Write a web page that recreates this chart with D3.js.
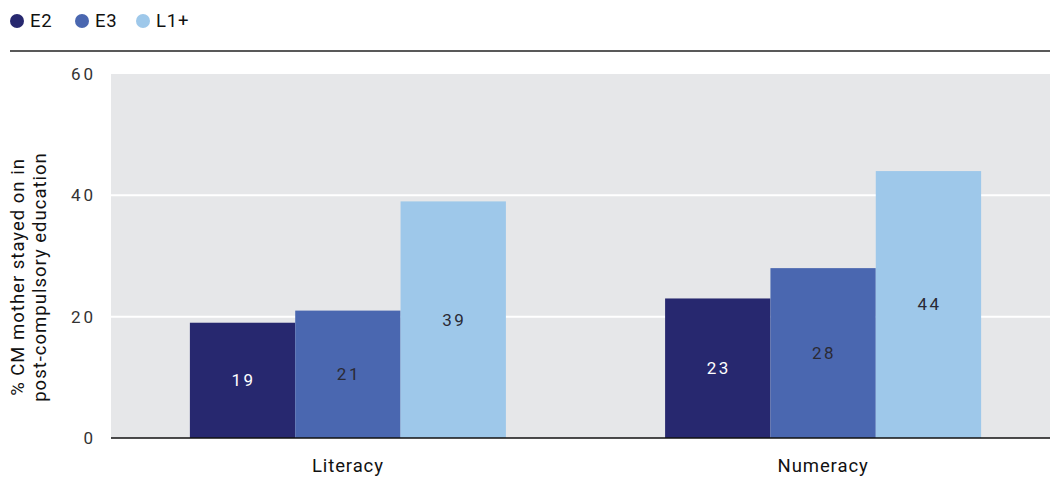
<!DOCTYPE html>
<html><head><meta charset="utf-8">
<script src="https://cdn.jsdelivr.net/npm/d3@7"></script>
<style>body{margin:0;background:#fff;} svg{display:block;font-family:Roboto, "DejaVu Sans", sans-serif;}</style>
</head><body>
<svg id="c" width="1050" height="480"></svg>
<script>
const categories = ["Literacy", "Numeracy"];
const seriesNames = ["E2", "E3", "L1+"];
const E2 = [19, 23];
const E3 = [21, 28];
const L1plus = [39, 44];
const yTicks = [0, 20, 40, 60];
const colors = ["#27286f", "#4a67b0", "#9ec8ea"];
const labelColors = ["#ffffff", "#2a2a35", "#2a2a35"];
const yTitle = ["% CM mother stayed on in", "post-compulsory education"];

(function () {
const seriesVals = [E2, E3, L1plus];
const svg = d3.select("#c");
const pl = 111, pr = 1060, pt = 74, pb = 438;

const x0 = d3.scaleBand().domain(categories).range([pl, pr]).paddingInner(0.335).paddingOuter(0.166);
const x1 = d3.scaleBand().domain(seriesNames).range([0, x0.bandwidth()]);
const y = d3.scaleLinear().domain([0, 60]).range([pb, pt]);

// background
svg.append("rect").attr("x", pl).attr("y", y(60)).attr("width", 1050 - pl).attr("height", y(0) - y(60)).attr("fill", "#e6e7e9");
// grid
svg.append("g").selectAll("line").data(yTicks.filter(d => d > 0 && d < 60)).join("line")
  .attr("x1", pl).attr("x2", 1050).attr("y1", d => y(d)).attr("y2", d => y(d))
  .attr("stroke", "#fff").attr("stroke-width", 2);

// bars
const groups = svg.append("g").selectAll("g").data(categories).join("g")
  .attr("transform", d => `translate(${x0(d)},0)`);
seriesNames.forEach((s, si) => {
  groups.append("rect")
    .attr("x", x1(s)).attr("width", x1.bandwidth())
    .attr("y", (d, i) => y(seriesVals[si][i]))
    .attr("height", (d, i) => y(0) - y(seriesVals[si][i]))
    .attr("fill", colors[si]);
  groups.append("text")
    .attr("x", x1(s) + x1.bandwidth() / 2 + 1)
    .attr("y", (d, i) => (y(seriesVals[si][i]) + y(0)) / 2)
    .attr("dy", "0.35em").attr("text-anchor", "middle")
    .attr("font-size", 17).attr("letter-spacing", 2.5)
    .attr("fill", labelColors[si])
    .text((d, i) => seriesVals[si][i]);
});

// baseline
svg.append("line").attr("x1", pl).attr("x2", 1050).attr("y1", y(0)).attr("y2", y(0)).attr("stroke", "#111").attr("stroke-width", 1.5);

// y axis
const yAxis = d3.axisLeft(y).tickValues(yTicks).tickSize(0).tickPadding(0);
const yg = svg.append("g").attr("transform", `translate(96,0)`).call(yAxis);
yg.select(".domain").remove();
yg.selectAll("text").attr("font-size", 17).attr("fill", "#333").attr("letter-spacing", 3)
  .attr("font-family", "Roboto, sans-serif");

// x axis labels
const xAxis = d3.axisBottom(x0).tickSize(0).tickPadding(0);
const xg = svg.append("g").attr("transform", `translate(0,${pb + 21})`).call(xAxis);
xg.select(".domain").remove();
xg.selectAll("text").attr("font-size", 18.5).attr("letter-spacing", 0.9)
  .attr("fill", "#111").attr("font-family", "Roboto, sans-serif");

// y title
const yt = svg.append("text").attr("transform", `translate(24,277) rotate(-90)`)
  .attr("text-anchor", "middle").attr("font-size", 18.5)
  .attr("letter-spacing", 1.0).attr("fill", "#111");
yt.selectAll("tspan").data(yTitle).join("tspan").attr("x", 0).attr("dy", (d, i) => i === 0 ? 0 : 22).text(d => d);

// legend
const lx = [17, 82, 143];
const lg = svg.append("g").selectAll("g").data(seriesNames).join("g")
  .attr("transform", (d, i) => `translate(${lx[i]},21)`);
lg.append("circle").attr("r", 7).attr("fill", (d, i) => colors[i]);
lg.append("text").attr("x", 13).attr("dy", "0.35em").attr("font-size", 18.5)
  .attr("letter-spacing", 0.8).attr("fill", "#111").text(d => d);

// top rule
svg.append("line").attr("x1", 10).attr("x2", 1050).attr("y1", 51).attr("y2", 51).attr("stroke", "#222").attr("stroke-width", 1.5);
})();
</script>
</body></html>
